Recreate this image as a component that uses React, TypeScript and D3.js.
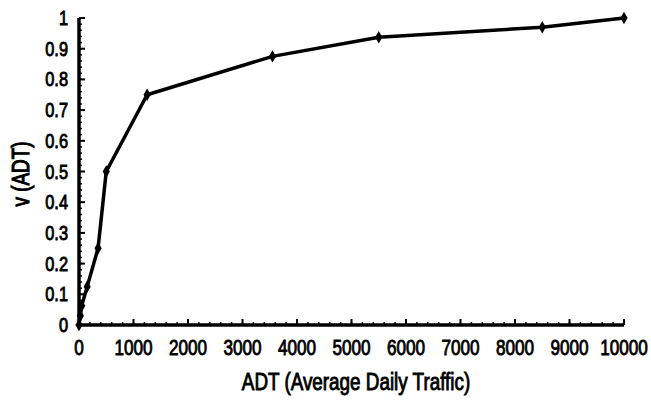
import React from "react";
import * as d3 from "d3";

const adt = [0, 25, 50, 150, 350, 500, 1250, 3550, 5500, 8500, 10000];
const vAdt = [0, 0.03, 0.0625, 0.125, 0.25, 0.5, 0.75, 0.875, 0.9375, 0.97, 1];
const xTicks = [0, 1000, 2000, 3000, 4000, 5000, 6000, 7000, 8000, 9000, 10000];
const yTicks = [0, 0.1, 0.2, 0.3, 0.4, 0.5, 0.6, 0.7, 0.8, 0.9, 1];
const xTitle = "ADT (Average Daily Traffic)";
const yTitle = "v (ADT)";

const W = 651;
const H = 400;
const left = 79;
const right = 624;
const top = 18;
const bottom = 325;
const FONT = "'Liberation Sans', Arial, Helvetica, sans-serif";

export default function App() {
  const x = d3.scaleLinear().domain([0, 10000]).range([left, right]);
  const y = d3.scaleLinear().domain([0, 1]).range([bottom, top]);
  const pts = adt.map((a, i) => [a, vAdt[i]] as [number, number]);
  const line = d3
    .line<[number, number]>()
    .x((d) => x(d[0]))
    .y((d) => y(d[1]));
  const diamond = d3.symbol().type(d3.symbolDiamond).size(45)();
  const xMinor = d3.range(0, 10001, 200);
  const yMinor = d3.range(0, 1.0001, 0.02);

  return (
    <svg
      width={W}
      height={H}
      style={{ position: "absolute", left: 0, top: 0, background: "#fff" }}
    >
      <rect x={0} y={0} width={W} height={H} fill="#fff" />
      {xMinor.map((t) => (
        <line key={"xm" + t} x1={x(t)} x2={x(t)} y1={bottom} y2={bottom - 3} stroke="#000" strokeWidth={1.5} />
      ))}
      {yMinor.map((t) => (
        <line key={"ym" + t} x1={left} x2={left + 3} y1={y(t)} y2={y(t)} stroke="#000" strokeWidth={1.5} />
      ))}
      {xTicks.map((t) => (
        <line key={"xt" + t} x1={x(t)} x2={x(t)} y1={bottom} y2={bottom - 6} stroke="#000" strokeWidth={2} />
      ))}
      {yTicks.map((t) => (
        <line key={"yt" + t} x1={left} x2={left + 6} y1={y(t)} y2={y(t)} stroke="#000" strokeWidth={2} />
      ))}
      <line x1={left} x2={left} y1={top} y2={bottom + 1.5} stroke="#000" strokeWidth={3.5} />
      <line x1={left - 1.5} x2={right} y1={bottom} y2={bottom} stroke="#000" strokeWidth={3.5} />
      {xTicks.map((t) => (
        <text
          key={"xl" + t}
          transform={`translate(${x(t)},${bottom + 30}) scale(0.78,1)`}
          textAnchor="middle"
          fontFamily={FONT}
          fontSize={22}
          fill="#000"
          stroke="#000"
          strokeWidth={0.9}
        >
          {String(t)}
        </text>
      ))}
      {yTicks.map((t) => (
        <text
          key={"yl" + t}
          transform={`translate(${left - 11},${y(t) + 7}) scale(0.78,1)`}
          textAnchor="end"
          fontFamily={FONT}
          fontSize={21}
          fill="#000"
          stroke="#000"
          strokeWidth={0.9}
        >
          {String(t)}
        </text>
      ))}
      <text
        transform={`translate(356,${bottom + 65}) scale(0.82,1)`}
        textAnchor="middle"
        fontFamily={FONT}
        fontSize={23}
        fill="#000"
        stroke="#000"
        strokeWidth={0.9}
      >
        {xTitle}
      </text>
      <text
        transform={`translate(29,174) rotate(-90) scale(0.82,1)`}
        textAnchor="middle"
        fontFamily={FONT}
        fontSize={23}
        fill="#000"
        stroke="#000"
        strokeWidth={1.1}
      >
        {yTitle}
      </text>
      <path d={line(pts) || ""} fill="none" stroke="#000" strokeWidth={3.5} strokeLinejoin="round" />
      {pts.map((p, i) => (
        <path key={"pt" + i} d={diamond || ""} transform={`translate(${x(p[0])},${y(p[1])})`} fill="#000" />
      ))}
    </svg>
  );
}
